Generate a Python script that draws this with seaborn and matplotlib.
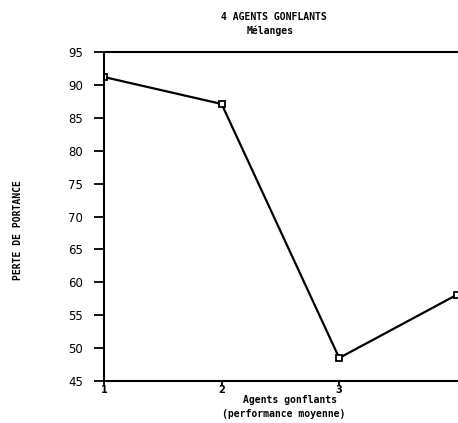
import matplotlib
matplotlib.use("Agg")
import matplotlib.pyplot as plt
import seaborn as sns
import pandas as pd

agents = [1, 2, 3, 4]
perte = [91.2, 87.1, 48.5, 58.1]
yticks = [45, 50, 55, 60, 65, 70, 75, 80, 85, 90, 95]
xticks = [1, 2, 3]

sns.set_style("ticks")
plt.rcParams['font.family'] = ['DejaVu Sans']
plt.rcParams['text.color'] = 'black'
plt.rcParams['xtick.color'] = 'black'
plt.rcParams['ytick.color'] = 'black'

df = pd.DataFrame({"agent": agents, "perte": perte})

fig = plt.figure(figsize=(4.58, 4.23), dpi=100)
ax = fig.add_axes([104/458, 42/423, 1 - 104/458, (381-52)/423])

sns.lineplot(data=df, x="agent", y="perte", ax=ax, color="black", linewidth=1.6,
             marker="s", markersize=5, markerfacecolor="white",
             markeredgecolor="black", markeredgewidth=1.3)

ax.set_xlim(1, 4.01)
ax.set_ylim(45, 95)
ax.set_yticks(yticks)
ax.set_xticks(xticks)
ax.set_xticklabels([str(v) for v in xticks], fontsize=7, fontweight="bold")
ax.set_yticklabels([str(v) for v in yticks], fontsize=8.5, fontweight="medium")
ax.tick_params(axis="y", direction="out", length=7, width=1.3, pad=8,
               color="black", labelcolor="black")
ax.tick_params(axis="x", direction="out", length=3, width=1.3, pad=0,
               color="black", labelcolor="black")
ax.set_xlabel("")
ax.set_ylabel("")
for s in ["left", "bottom", "top"]:
    ax.spines[s].set_linewidth(1.5)
    ax.spines[s].set_color("black")
ax.spines["right"].set_visible(False)

mono = "DejaVu Sans Mono"
fig.text(274/458, 1 - 17/423, "4 AGENTS GONFLANTS", ha="center", va="center",
         fontsize=7, fontweight="bold", family=mono, color="black")
fig.text(270/458, 1 - 31/423, "Mélanges", ha="center", va="center",
         fontsize=7, fontweight="bold", family=mono, color="black")
fig.text(290/458, 1 - 400/423, "Agents gonflants", ha="center", va="center",
         fontsize=7, fontweight="bold", family=mono, color="black")
fig.text(284/458, 1 - 414/423, "(performance moyenne)", ha="center", va="center",
         fontsize=7, fontweight="bold", family=mono, color="black")
fig.text(18/458, 1 - 230/423, "PERTE DE PORTANCE", ha="center", va="center",
         rotation=90, fontsize=7, fontweight="bold", family=mono, color="black")

fig.savefig("out.png", dpi=100)
